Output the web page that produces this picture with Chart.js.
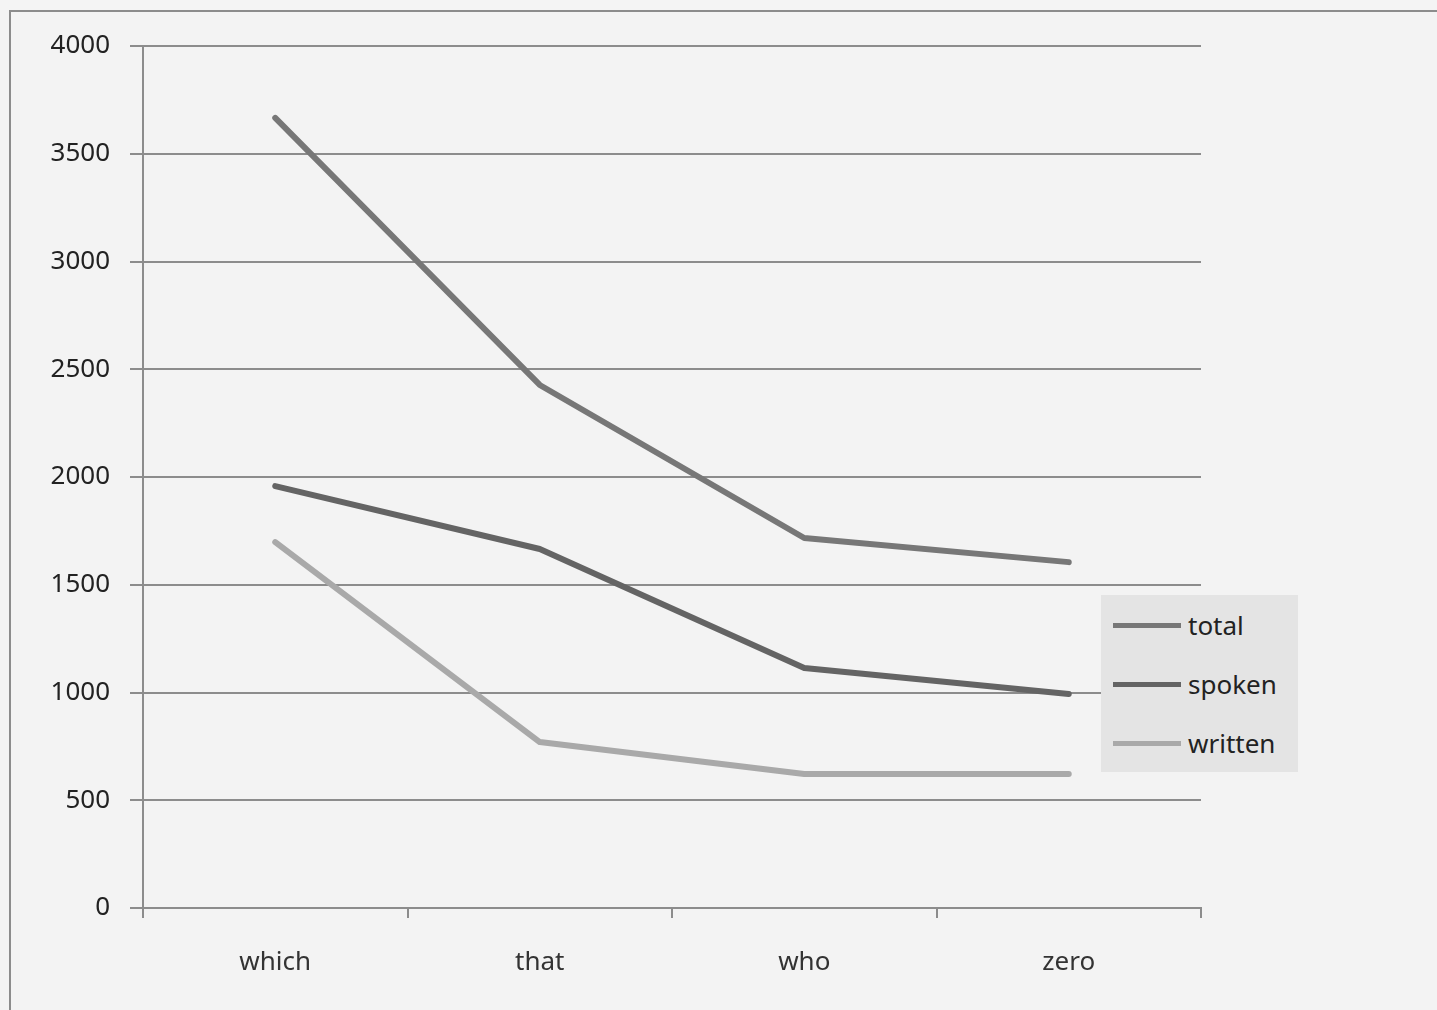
<!DOCTYPE html>
<html>
<head>
<meta charset="utf-8">
<script src="https://cdn.jsdelivr.net/npm/chart.js@4"></script>
<style>
  html, body { margin: 0; padding: 0; background: #f4f4f4; }
  #frame {
    position: absolute; left: 9px; top: 10px; width: 1440px; height: 1010px;
    border: 2px solid #8c8c8c; box-sizing: border-box; background: #f3f3f3;
  }
  #chart { position: absolute; left: 0; top: 0; }
  #legend {
    position: absolute; left: 1101px; top: 595px; width: 197px; height: 177px;
    background: #e4e4e4; font-family: "Noto Sans", sans-serif; font-size: 26px; color: #222;
  }
  .row { position: absolute; left: 12px; height: 30px; display: flex; align-items: center; }
  .swatch { width: 68px; height: 5px; margin-right: 7px; }
</style>
</head>
<body>
<div id="frame"></div>
<canvas id="chart" width="1437" height="1010"></canvas>
<div id="legend"></div>
<script>
const categories = ['which', 'that', 'who', 'zero'];
const seriesNames = ['total', 'spoken', 'written'];
const total = [3666, 2427, 1717, 1605];
const spoken = [1958, 1666, 1114, 993];
const written = [1698, 770, 622, 622];
const yTicks = [0, 500, 1000, 1500, 2000, 2500, 3000, 3500, 4000];

const colors = ['#777777', '#646464', '#a9a9a9'];
const values = [total, spoken, written];
const FONT = '"Noto Sans", sans-serif';

const datasets = seriesNames.map((name, i) => ({
  label: name,
  data: values[i],
  borderColor: colors[i],
  borderWidth: 6,
  borderCapStyle: 'round',
  borderJoinStyle: 'round',
  pointRadius: 0,
  tension: 0,
  fill: false,
}));

new Chart(document.getElementById('chart'), {
  type: 'line',
  data: { labels: categories, datasets },
  options: {
    responsive: false,
    animation: false,
    layout: { padding: { left: 0, top: 46, right: 236, bottom: 0 } },
    plugins: { legend: { display: false }, tooltip: { enabled: false } },
    scales: {
      x: {
        offset: true,
        grid: { offset: true, drawOnChartArea: false, drawTicks: true, tickLength: 10, color: '#8c8c8c', lineWidth: 2 },
        border: { color: '#8c8c8c', width: 2 },
        ticks: { color: '#333', font: { family: FONT, size: 26 }, padding: 29, maxRotation: 0 },
        afterFit: (scale) => { scale.height = 102; },
      },
      y: {
        min: 0,
        max: 4000,
        afterBuildTicks: (scale) => { scale.ticks = yTicks.map((v) => ({ value: v })); },
        grid: { color: '#8c8c8c', lineWidth: 2, tickLength: 13 },
        border: { color: '#8c8c8c', width: 2 },
        ticks: { color: '#222', font: { family: FONT, size: 26 }, padding: 20, callback: (v) => String(v) },
        afterFit: (scale) => { scale.width = 143; },
      },
    },
  },
});

const legend = document.getElementById('legend');
seriesNames.forEach((name, i) => {
  const row = document.createElement('div');
  row.className = 'row';
  row.style.top = (15 + i * 59) + 'px';
  row.innerHTML = `<div class="swatch" style="background:${colors[i]}"></div><span>${name}</span>`;
  legend.appendChild(row);
});
</script>
</body>
</html>
